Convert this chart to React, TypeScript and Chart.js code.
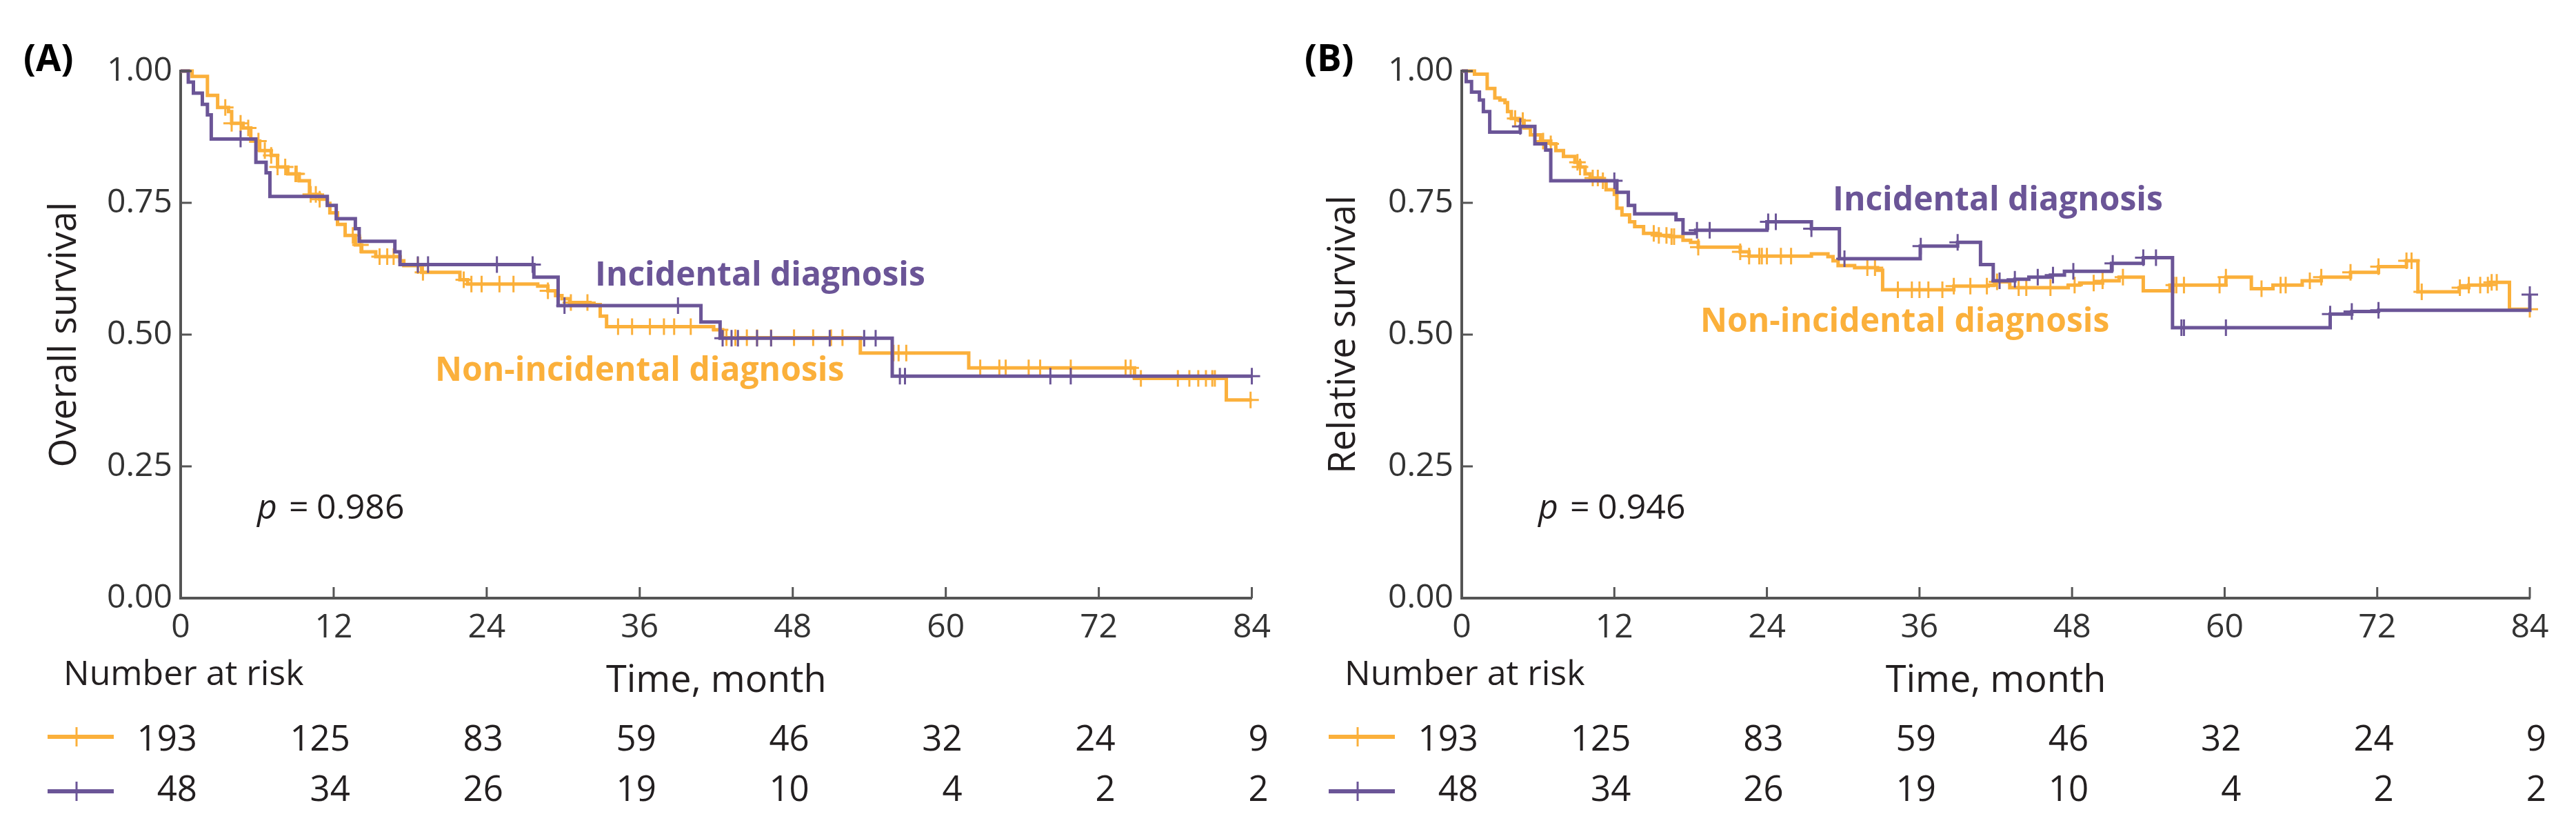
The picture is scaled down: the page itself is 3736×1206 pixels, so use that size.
import React, { useEffect, useRef } from 'react';
import { Chart, registerables } from 'chart.js';

Chart.register(...registerables);

// ---------- data ----------
const MONTH_TICKS = [0, 12, 24, 36, 48, 60, 72, 84];
const Y_TICKS = [0, 0.25, 0.5, 0.75, 1];
const RISK_NON_INCIDENTAL = [193, 125, 83, 59, 46, 32, 24, 9];
const RISK_INCIDENTAL = [48, 34, 26, 19, 10, 4, 2, 2];

// Panel A – overall survival
const A_INC_T = [0, 0.6, 1.0, 1.7, 2.1, 2.4, 5.9, 6.7, 7.0, 11.5, 12.2, 13.7, 14.0, 16.8, 17.2, 27.7, 29.6, 40.8, 42.3, 55.8, 84];
const A_INC_S = [1, 0.979, 0.958, 0.937, 0.917, 0.871, 0.827, 0.807, 0.762, 0.745, 0.72, 0.701, 0.677, 0.657, 0.633, 0.609, 0.555, 0.524, 0.493, 0.421, 0.421];
const A_INC_CENS = [4.7, 18.6, 19.4, 24.8, 27.6, 30.1, 39.0, 42.5, 43.2, 43.7, 45.2, 46.3, 50.9, 53.6, 54.5, 56.4, 56.8, 68.2, 69.8, 84];

const A_NON_T = [0, 0.9, 2.1, 2.9, 3.75, 4.0, 4.9, 5.5, 6.2, 7.1, 7.6, 8.4, 9.3, 10.1, 10.9, 11.5, 11.7, 12.3, 12.9, 13.7, 14.2, 15.3, 17.2, 17.5, 18.9, 21.9, 22.5, 28.0, 28.8, 29.4, 29.9, 30.5, 32.1, 32.9, 33.4, 41.8, 42.5, 53.3, 61.8, 74.8, 82.0, 84];
const A_NON_S = [1, 0.99, 0.954, 0.931, 0.923, 0.901, 0.892, 0.867, 0.849, 0.84, 0.818, 0.805, 0.792, 0.766, 0.757, 0.749, 0.731, 0.709, 0.688, 0.67, 0.657, 0.648, 0.64, 0.631, 0.618, 0.604, 0.596, 0.592, 0.583, 0.574, 0.568, 0.561, 0.557, 0.535, 0.515, 0.509, 0.494, 0.465, 0.437, 0.417, 0.376, 0.376];
const A_NON_CENS = [3.5, 4.0, 4.7, 5.3, 6.1, 6.6, 7.1, 7.6, 8.2, 9.0, 9.1, 10.2, 10.6, 10.9, 13.5, 14.1, 15.6, 16.2, 16.7, 18.6, 19.0, 22.2, 22.8, 23.6, 25.0, 26.1, 28.8, 30.6, 31.9, 34.3, 35.4, 36.8, 37.9, 38.7, 40.0, 42.3, 42.8, 43.5, 44.4, 45.2, 46.3, 48.1, 49.6, 51.0, 51.9, 55.9, 56.3, 56.9, 62.7, 64.2, 64.7, 66.5, 67.4, 69.8, 74.1, 74.5, 75.3, 78.2, 79.1, 79.8, 80.4, 80.9, 81.1, 83.9];

// Panel B – relative survival
const B_INC_T = [0, 0.35, 0.77, 1.39, 1.7, 2.2, 4.6, 5.75, 6.6, 7.0, 12.2, 13.1, 13.6, 16.85, 17.4, 18.4, 24.0, 27.5, 29.7, 36.06, 39.0, 40.8, 41.8, 43.5, 44.6, 46.3, 47.4, 51.1, 53.6, 55.9, 68.3, 70.0, 72.1, 84.0];
const B_INC_S = [1, 0.98, 0.96, 0.945, 0.923, 0.884, 0.895, 0.862, 0.85, 0.792, 0.77, 0.745, 0.729, 0.718, 0.692, 0.698, 0.714, 0.701, 0.644, 0.668, 0.675, 0.633, 0.602, 0.605, 0.609, 0.613, 0.62, 0.635, 0.646, 0.513, 0.539, 0.544, 0.546, 0.576];
const B_INC_CENS = [4.6, 12.0, 18.5, 19.5, 24.1, 24.7, 27.5, 30.1, 36.1, 39.0, 42.3, 43.5, 45.3, 46.5, 48.1, 51.2, 53.6, 54.6, 56.6, 56.8, 60.1, 68.3, 70.0, 72.1, 84.0];

const B_NON_T = [0, 1.0, 2.0, 2.6, 3.0, 3.4, 3.6, 3.9, 4.5, 4.9, 5.4, 6.2, 7.0, 7.4, 8.0, 8.9, 9.3, 9.7, 10.1, 10.9, 11.35, 12.0, 12.2, 12.6, 13.2, 13.6, 14.3, 15.3, 16.4, 17.4, 18.0, 18.6, 21.9, 22.6, 27.5, 28.8, 29.2, 29.6, 30.9, 32.7, 33.1, 38.7, 41.4, 41.9, 43.1, 47.7, 48.6, 50.4, 51.7, 53.6, 55.7, 60.1, 62.1, 63.8, 66.1, 67.6, 69.9, 72.1, 74.3, 75.2, 78.45, 79.2, 80.8, 82.4, 84.0];
const B_NON_S = [1, 0.994, 0.967, 0.949, 0.945, 0.94, 0.923, 0.91, 0.906, 0.892, 0.879, 0.867, 0.862, 0.849, 0.838, 0.827, 0.818, 0.805, 0.797, 0.792, 0.775, 0.766, 0.74, 0.727, 0.714, 0.705, 0.692, 0.688, 0.686, 0.679, 0.675, 0.666, 0.657, 0.649, 0.653, 0.648, 0.64, 0.631, 0.627, 0.622, 0.585, 0.592, 0.594, 0.6, 0.589, 0.594, 0.598, 0.602, 0.609, 0.583, 0.594, 0.609, 0.587, 0.594, 0.602, 0.609, 0.618, 0.629, 0.64, 0.581, 0.589, 0.594, 0.599, 0.548, 0.548];
const B_NON_CENS = [4.2, 4.8, 6.4, 7.0, 9.1, 9.3, 10.3, 10.7, 11.1, 15.1, 15.5, 16.1, 16.5, 16.7, 18.6, 21.9, 22.6, 23.4, 23.6, 24.0, 25.1, 25.9, 31.9, 32.5, 34.3, 35.4, 36.0, 36.7, 37.8, 38.7, 40.0, 41.3, 42.1, 43.8, 44.4, 46.3, 48.2, 49.7, 50.4, 52.0, 56.0, 56.2, 56.8, 59.6, 60.1, 62.9, 64.4, 64.8, 66.7, 67.6, 69.9, 72.1, 74.3, 74.7, 75.5, 78.5, 79.2, 80.1, 80.7, 81.0, 81.4, 84.0];

// ---------- styles ----------
const ORANGE = '#fbb03b';
const PURPLE = '#6b5597';
const TEXT = '#231f20';
const AXIS = '#555555';
const FONT = "'Open Sans', 'DejaVu Sans', sans-serif";

Chart.defaults.font.family = FONT;
Chart.defaults.color = '#333333';

function stepAt(ts: number[], vs: number[], t: number) {
  let idx = 0;
  for (let i = 0; i < ts.length; i++) if (ts[i] <= t) idx = i;
  return vs[idx];
}

type Panel = {
  width: number;
  padRight: number;
  tag: string;
  yTitle: string;
  yTitleX: number;
  pLabel: string;
  incT: number[]; incS: number[]; incC: number[];
  nonT: number[]; nonS: number[]; nonC: number[];
  incLabel: { x: number; y: number };
  nonLabel: { x: number; y: number };
};

const PANEL_A: Panel = {
  width: 1858, padRight: 40, tag: '(A)', yTitle: 'Overall survival', yTitleX: 95,
  pLabel: '0.986',
  incT: A_INC_T, incS: A_INC_S, incC: A_INC_CENS,
  nonT: A_NON_T, nonS: A_NON_S, nonC: A_NON_CENS,
  incLabel: { x: 863, y: 414 }, nonLabel: { x: 631, y: 552 },
};
const PANEL_B: Panel = {
  width: 1878, padRight: 67, tag: '(B)', yTitle: 'Relative survival', yTitleX: 92,
  pLabel: '0.946',
  incT: B_INC_T, incS: B_INC_S, incC: B_INC_CENS,
  nonT: B_NON_T, nonS: B_NON_S, nonC: B_NON_CENS,
  incLabel: { x: 800, y: 305 }, nonLabel: { x: 608, y: 481 },
};

function lineDs(t: number[], s: number[], color: string) {
  return {
    type: 'line' as const,
    data: t.map((x, i) => ({ x, y: s[i] })),
    borderColor: color,
    borderWidth: 5,
    stepped: 'before' as const,
    pointRadius: 0,
    fill: false,
    clip: false as any,
    borderJoinStyle: 'miter' as const,
  };
}
function censDs(c: number[], t: number[], s: number[], color: string) {
  return {
    type: 'scatter' as const,
    data: c.map((x) => ({ x, y: stepAt(t, s, x) })),
    showLine: false,
    pointStyle: 'cross' as const,
    pointRadius: 12,
    pointBorderWidth: 3,
    pointBorderColor: color,
    pointBackgroundColor: color,
    borderColor: color,
    clip: false as any,
  };
}

function buildChart(canvas: HTMLCanvasElement, p: Panel) {
  const decor = {
    id: 'kmDecor',
    afterDraw(chart: any) {
      const ctx = chart.ctx as CanvasRenderingContext2D;
      const xs = chart.scales.x;
      const ys = chart.scales.y;
      const area = chart.chartArea;
      ctx.save();
      // inner tick marks
      ctx.strokeStyle = AXIS;
      ctx.lineWidth = 3;
      MONTH_TICKS.forEach((m) => {
        if (m === 0) return;
        const px = xs.getPixelForValue(m);
        ctx.beginPath();
        ctx.moveTo(px, area.bottom);
        ctx.lineTo(px, area.bottom - 16);
        ctx.stroke();
      });
      Y_TICKS.forEach((v) => {
        if (v === 0) return;
        const py = ys.getPixelForValue(v);
        ctx.beginPath();
        ctx.moveTo(area.left, py);
        ctx.lineTo(area.left + 16, py);
        ctx.stroke();
      });

      // panel tag
      ctx.fillStyle = '#000';
      ctx.textAlign = 'left';
      ctx.textBaseline = 'alphabetic';
      ctx.font = `bold 53px ${FONT}`;
      ctx.fillText(p.tag, 34, 103);

      // y title
      ctx.save();
      ctx.translate(p.yTitleX, (area.top + area.bottom) / 2);
      ctx.rotate(-Math.PI / 2);
      ctx.textAlign = 'center';
      ctx.textBaseline = 'middle';
      ctx.fillStyle = TEXT;
      ctx.font = `54px ${FONT}`;
      ctx.fillText(p.yTitle, 0, 0);
      ctx.restore();

      // p value
      ctx.fillStyle = TEXT;
      ctx.textAlign = 'left';
      ctx.textBaseline = 'alphabetic';
      ctx.font = `italic 50px ${FONT}`;
      ctx.fillText('p', 373, 752);
      ctx.font = `50px ${FONT}`;
      ctx.fillText('=', 419, 752);
      ctx.fillText(p.pLabel, 459, 752);

      // curve labels
      ctx.font = `bold 48px ${FONT}`;
      ctx.fillStyle = PURPLE;
      ctx.fillText('Incidental diagnosis', p.incLabel.x, p.incLabel.y);
      ctx.fillStyle = ORANGE;
      ctx.fillText('Non-incidental diagnosis', p.nonLabel.x, p.nonLabel.y);

      // x title
      ctx.fillStyle = TEXT;
      ctx.textAlign = 'center';
      ctx.font = `54px ${FONT}`;
      ctx.fillText('Time, month', (area.left + area.right) / 2, 1003);

      // number at risk
      ctx.textAlign = 'left';
      ctx.font = `50px ${FONT}`;
      ctx.fillText('Number at risk', 92, 993);

      ctx.font = `51px ${FONT}`;
      ctx.textAlign = 'right';
      MONTH_TICKS.forEach((m, i) => {
        const px = xs.getPixelForValue(m) + 24;
        ctx.fillText(String(RISK_NON_INCIDENTAL[i]), px, 1088);
        ctx.fillText(String(RISK_INCIDENTAL[i]), px, 1161);
      });

      // legend keys
      const key = (y: number, color: string) => {
        ctx.strokeStyle = color;
        ctx.lineWidth = 6;
        ctx.beginPath();
        ctx.moveTo(69, y);
        ctx.lineTo(165, y);
        ctx.stroke();
        ctx.lineWidth = 3;
        ctx.beginPath();
        ctx.moveTo(111, y - 14);
        ctx.lineTo(111, y + 14);
        ctx.stroke();
      };
      key(1068, ORANGE);
      key(1147, PURPLE);
      ctx.restore();
    },
  };

  return new Chart(canvas, {
    type: 'line',
    data: {
      datasets: [
        censDs(p.incC, p.incT, p.incS, PURPLE) as any,
        lineDs(p.incT, p.incS, PURPLE) as any,
        censDs(p.nonC, p.nonT, p.nonS, ORANGE) as any,
        lineDs(p.nonT, p.nonS, ORANGE) as any,
      ],
    },
    options: {
      responsive: false,
      animation: false,
      devicePixelRatio: 1,
      events: [],
      layout: { padding: { left: 0, top: 103, right: p.padRight, bottom: 0 } },
      plugins: {
        legend: { display: false },
        tooltip: { enabled: false },
        title: { display: false },
      },
      scales: {
        x: {
          type: 'linear',
          min: 0,
          max: 84,
          afterBuildTicks: (s: any) => {
            s.ticks = MONTH_TICKS.map((v) => ({ value: v }));
          },
          ticks: {
            font: { size: 48 },
            color: '#333333',
            padding: 15,
            maxRotation: 0,
            autoSkip: false,
          },
          grid: { display: false, drawTicks: false },
          border: { display: true, color: AXIS, width: 4 },
          afterFit: (s: any) => {
            s.height = 339;
          },
        },
        y: {
          type: 'linear',
          min: 0,
          max: 1,
          afterBuildTicks: (s: any) => {
            s.ticks = Y_TICKS.map((v) => ({ value: v }));
          },
          ticks: {
            font: { size: 48 },
            color: '#333333',
            padding: 12,
            callback: (v: any) => Number(v).toFixed(2),
          },
          grid: { display: false, drawTicks: false },
          border: { display: true, color: AXIS, width: 4 },
          afterFit: (s: any) => {
            s.width = 262;
          },
        },
      },
    } as any,
    plugins: [decor],
  });
}

export default function App() {
  const aRef = useRef<HTMLCanvasElement>(null);
  const bRef = useRef<HTMLCanvasElement>(null);
  useEffect(() => {
    document.body.style.margin = '0';
    document.body.style.background = '#ffffff';
    document.body.style.overflow = 'hidden';
    const ca = buildChart(aRef.current as HTMLCanvasElement, PANEL_A);
    const cb = buildChart(bRef.current as HTMLCanvasElement, PANEL_B);
    return () => {
      ca.destroy();
      cb.destroy();
    };
  }, []);
  return (
    <div style={{ display: 'flex', width: 3736, height: 1206, background: '#ffffff' }}>
      <canvas ref={aRef} width={PANEL_A.width} height={1206} style={{ width: PANEL_A.width, height: 1206, display: 'block' }} />
      <canvas ref={bRef} width={PANEL_B.width} height={1206} style={{ width: PANEL_B.width, height: 1206, display: 'block' }} />
    </div>
  );
}
